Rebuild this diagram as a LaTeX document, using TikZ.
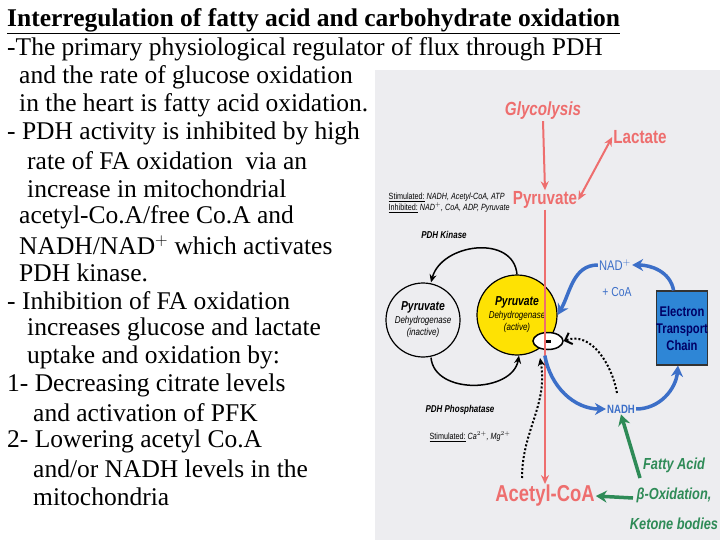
\documentclass[tikz,border=0pt]{standalone}
\usepackage{fontspec}
\setmainfont{Liberation Serif}
\newfontfamily\cond[FakeStretch=0.8]{Liberation Sans}
\usetikzlibrary{arrows.meta,shapes.geometric}
\definecolor{rd}{HTML}{EE6E6E}
\definecolor{bl}{HTML}{3C6FC8}
\definecolor{gr}{HTML}{2E8B57}
\definecolor{bg}{HTML}{EDEDF0}
\definecolor{etc}{HTML}{2E86D6}
\begin{document}
\begin{tikzpicture}[x=1pt,y=-1pt,
  txt/.style={anchor=west,inner sep=0pt,font=\fontsize{25.5}{26}\selectfont},
  lab/.style={inner sep=1pt,font=\cond\fontsize{19}{19}\selectfont\itshape\bfseries},
  sm/.style={inner sep=0.5pt,font=\cond\fontsize{9}{11}\selectfont\itshape},
  rarr/.style={rd,line width=2pt,-{Stealth[length=9pt,width=8pt]}},
  barr/.style={bl,line width=3.5pt,-{Stealth[length=11pt,width=12pt]}},
  garr/.style={gr,line width=3.5pt,-{Stealth[length=11pt,width=12pt]}},
  karr/.style={black,line width=1.5pt,-{Stealth[length=8pt,width=7pt]}},
  darr/.style={black,line width=2pt,dotted}]
\useasboundingbox (0,0) rectangle (720,540);
\fill[white] (0,0) rectangle (720,540);
\fill[bg] (375,70) rectangle (720,540);
% left text
\node[txt,font=\bfseries\fontsize{25.5}{26}\selectfont] (t0) at (7,21) {\underline{Interregulation of fatty acid and carbohydrate oxidation}};
\node[txt] (t1) at (7,49) {-The primary physiological regulator of flux through PDH};
\node[txt] (t2) at (19,77) {and the rate of glucose oxidation};
\node[txt] (t3) at (19,105) {in the heart is fatty acid oxidation.};
\node[txt] (t4) at (7,133) {- PDH activity is inhibited by high};
\node[txt] (t5) at (27,161) {rate of FA oxidation\ \ via an};
\node[txt] (t6) at (27,189) {increase in mitochondrial};
\node[txt] (t7) at (19,217) {acetyl-Co.A/free Co.A and};
\node[txt] (t8) at (19,245) {NADH/NAD$^+$ which activates};
\node[txt] (t9) at (19,273) {PDH kinase.};
\node[txt] (t10) at (7,301) {- Inhibition of FA oxidation};
\node[txt] (t11) at (27,329) {increases glucose and lactate};
\node[txt] (t12) at (27,357) {uptake and oxidation by:};
\node[txt] (t13) at (7,385) {1- Decreasing citrate levels};
\node[txt] (t14) at (33,413) {and activation of PFK};
\node[txt] (t15) at (7,441) {2- Lowering acetyl Co.A};
\node[txt] (t16) at (33,469) {and/or NADH levels in the};
\node[txt] (t17) at (33,497) {mitochondria};
% figure
\node[lab,rd] (gly) at (543,111) {Glycolysis};
\node[lab,rd,font=\cond\fontsize{19}{19}\selectfont\bfseries] (lac) at (640,137) {Lactate};
\node[lab,rd,font=\cond\fontsize{19}{19}\selectfont\bfseries] (pyr) at (545,200) {Pyruvate};
\node[lab,rd,font=\cond\fontsize{23}{23}\selectfont\bfseries] (acoa) at (545,496) {Acetyl-CoA};
\draw[rarr] (gly.south) -- (pyr.north);
\draw[rd,line width=2pt,{Stealth[length=9pt,width=8pt]}-{Stealth[length=9pt,width=8pt]}] (pyr.east) -- (lac.west);
\node[sm,anchor=west,align=left] (stim) at (388,203) {\underline{\upshape Stimulated:} NADH, Acetyl-CoA, ATP\\\underline{\upshape Inhibited:} NAD$^+$, CoA, ADP, Pyruvate};
\node[sm,font=\cond\fontsize{10}{10}\selectfont\itshape\bfseries] (kin) at (444,235) {PDH Kinase};
\node[draw,circle,line width=1.2pt,minimum size=74pt,fill=bg,align=center,inner sep=0pt] (ina) at (423,320) {{\cond\fontsize{13}{13}\selectfont\itshape\bfseries Pyruvate}\\[1pt]{\cond\fontsize{10}{11}\selectfont\itshape Dehydrogenase}\\{\cond\fontsize{10}{11}\selectfont\itshape (inactive)}};
\node[draw,circle,line width=1.2pt,minimum size=80pt,fill=yellow!85!orange,align=center,inner sep=0pt] (act) at (517,315) {{\cond\fontsize{13}{13}\selectfont\itshape\bfseries Pyruvate}\\[1pt]{\cond\fontsize{10}{11}\selectfont\itshape Dehydrogenase}\\{\cond\fontsize{10}{11}\selectfont\itshape (active)}};
\node[draw,ellipse,line width=1.5pt,fill=white,minimum width=30pt,minimum height=17pt,inner sep=0pt] (inh) at (548,341) {};
\fill (inh.center) ++(-2.5,-1.5) rectangle ++(5,3);
\draw[karr] (act.north) to[out=95,in=75,looseness=1.2] ([xshift=8pt]ina.north);
\node[sm,font=\cond\fontsize{10}{10}\selectfont\itshape\bfseries] (pho) at (460,410) {PDH Phosphatase};
\node[sm,font=\cond\fontsize{9}{9}\selectfont\itshape] (pst) at (470,437) {\underline{\upshape Stimulated:} Ca$^{2+}$, Mg$^{2+}$};
\draw[karr] ([xshift=8pt]ina.south) to[out=-85,in=-100,looseness=1.1] ([xshift=2pt]act.south);
\draw[rarr,line width=2.5pt] (pyr.south) -- (acoa.north);
\node[lab,bl,font=\cond\fontsize{14}{14}\selectfont] (nad) at (615,265) {NAD$^+$};
\node[lab,bl,font=\cond\fontsize{13}{13}\selectfont] (coa) at (617,292) {+ CoA};
\node[lab,bl,font=\cond\fontsize{12}{12}\selectfont\bfseries] (nadh) at (621,409) {NADH};
\node[draw=black!80,line width=1.2pt,fill=etc,minimum width=46pt,minimum height=74pt,align=center,inner sep=0pt,font=\cond\fontsize{14}{17}\selectfont\bfseries,text=blue!40!black] (etcb) at (682,328) {Electron\\Transport\\Chain};
\draw[barr] (etcb.north west) ++(18,0) to[out=100,in=0] (nad.east);
\draw[barr] (nad.west) to[out=180,in=60] (act.east);
\draw[barr] (inh.south west) ++(8,8) to[out=-80,in=180] (nadh.west);
\draw[barr] (nadh.east) to[out=0,in=-95] ([xshift=-4pt]etcb.south);
\draw[darr,-{Straight Barb[length=6pt,width=12pt]}] (617,393) to[out=100,in=20] (inh.east);
\draw[darr,-{Stealth[length=8pt,width=7pt]}] (522,478) to[out=90,in=-80] (540,358);
\node[lab,gr,align=center,font=\cond\fontsize{16}{30}\selectfont\itshape\bfseries] (fa) at (674,494) {Fatty Acid\\β-Oxidation,\\Ketone bodies};
\draw[garr] (640,478) -- (nadh.south);
\draw[garr] (633,498) -- (acoa.east);
\end{tikzpicture}
\end{document}
